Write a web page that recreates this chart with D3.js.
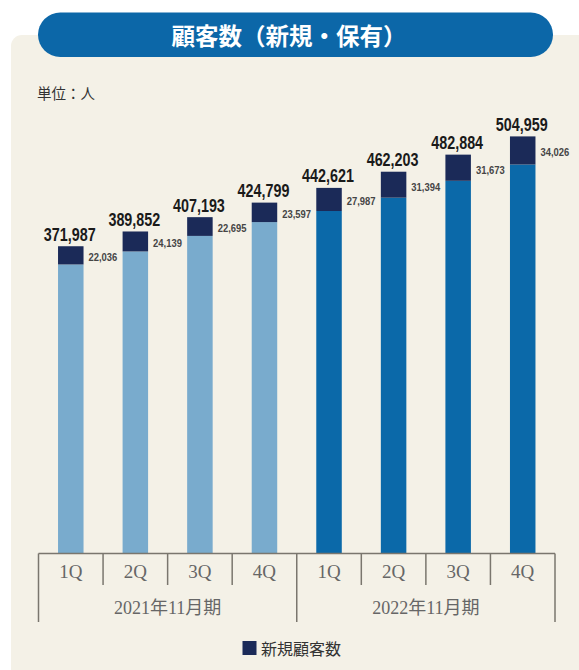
<!DOCTYPE html>
<html>
<head>
<meta charset="utf-8">
<script src="https://cdn.jsdelivr.net/npm/d3@7"></script>
<style>
  html, body { margin: 0; padding: 0; background: #fff; }
  svg { display: block; }
</style>
</head>
<body>
<div id="chart"></div>
<script>
    // Data
    const periods = ["2021年11月期", "2022年11月期"];
    const quarters = ["1Q", "2Q", "3Q", "4Q"];
    const totalCustomers = [371987, 389852, 407193, 424799, 442621, 462203, 482884, 504959];
    const newCustomers = [22036, 24139, 22695, 23597, 27987, 31394, 31673, 34026];
    const legendLabel = "新規顧客数";
    const titleText = "顧客数（新規・保有）";
    const unitText = "単位：人";

    const W = 579, H = 670;
    const baseY = 553.5;
    const barW = 25.5;
    const narrow = 0.82; // condensed look for the value labels

    const svg = d3.select("#chart")
        .append("svg")
        .attr("width", W)
        .attr("height", H);

    // Beige panel + title pill
    svg.append("rect")
        .attr("x", 11).attr("y", 35)
        .attr("width", 620).attr("height", 700)
        .attr("rx", 11)
        .attr("fill", "#f4f1e7");

    svg.append("rect")
        .attr("x", 38).attr("y", 12.5)
        .attr("width", 515).attr("height", 44.5)
        .attr("rx", 22.25)
        .attr("fill", "#0c67a8");

    svg.append("text")
        .attr("x", 289).attr("y", 35)
        .attr("text-anchor", "middle")
        .attr("dominant-baseline", "central")
        .attr("font-family", "'Noto Sans CJK JP', sans-serif")
        .attr("font-weight", 700)
        .attr("font-size", 23.5)
        .attr("fill", "#fff")
        .text(titleText);

    svg.append("text")
        .attr("x", 37).attr("y", 92)
        .attr("dominant-baseline", "central")
        .attr("font-family", "'Noto Sans CJK JP', sans-serif")
        .attr("font-size", 14.5)
        .attr("fill", "#333")
        .text(unitText);

    // Scales
    const keys = [];
    periods.forEach((p, pi) => quarters.forEach(q => keys.push(pi + "-" + q)));
    const rows = keys.map((k, i) => ({
        key: k,
        period: +k.split("-")[0],
        quarter: k.split("-")[1],
        total: totalCustomers[i],
        added: newCustomers[i]
    }));

    const x = d3.scaleBand().domain(keys).range([38.5, 555]).padding(0);
    const y = d3.scaleLinear().domain([0, 600000]).range([baseY, baseY - 600000 * 0.000826]);
    const baseColor = ["#79abcd", "#0b69a9"];
    const newColor = "#1b2a58";
    const fmt = d3.format(",");

    const bars = svg.append("g").selectAll("g")
        .data(rows)
        .enter().append("g");

    // Retained part
    bars.append("rect")
        .attr("x", d => x(d.key) + x.bandwidth() / 2 - barW / 2)
        .attr("y", d => y(d.total - d.added))
        .attr("width", barW)
        .attr("height", d => baseY - y(d.total - d.added))
        .attr("fill", d => baseColor[d.period]);

    // New customers part
    bars.append("rect")
        .attr("x", d => x(d.key) + x.bandwidth() / 2 - barW / 2)
        .attr("y", d => y(d.total))
        .attr("width", barW)
        .attr("height", d => y(d.total - d.added) - y(d.total))
        .attr("fill", newColor);

    // Total labels
    bars.append("text")
        .attr("transform", d => `translate(${x(d.key) + x.bandwidth() / 2 - 1},${y(d.total) - 5.5}) scale(${narrow},1)`)
        .attr("text-anchor", "middle")
        .attr("font-family", "'Liberation Sans', Arial, sans-serif")
        .attr("font-weight", 700)
        .attr("font-size", 17.5)
        .attr("fill", "#1a1a1a")
        .text(d => fmt(d.total));

    // New customer labels
    bars.append("text")
        .attr("transform", d => `translate(${x(d.key) + x.bandwidth() / 2 + barW / 2 + 5},${(y(d.total) + y(d.total - d.added)) / 2 + 1.5}) scale(${narrow},1)`)
        .attr("dominant-baseline", "central")
        .attr("font-family", "'Liberation Sans', Arial, sans-serif")
        .attr("font-weight", 700)
        .attr("font-size", 11.5)
        .attr("fill", "#454545")
        .text(d => fmt(d.added));

    // Category axis
    const axis = svg.append("g")
        .attr("stroke", "#7a766e")
        .attr("stroke-width", 1.5);

    axis.append("line")
        .attr("x1", x.range()[0]).attr("x2", x.range()[1])
        .attr("y1", baseY).attr("y2", baseY);

    const edges = keys.map(k => x(k)).concat([x.range()[1]]);
    axis.selectAll(".div")
        .data(edges)
        .enter().append("line")
        .attr("x1", d => d).attr("x2", d => d)
        .attr("y1", baseY)
        .attr("y2", (d, i) => i % quarters.length === 0 ? 622 : 585);

    svg.append("g").selectAll("text")
        .data(rows)
        .enter().append("text")
        .attr("x", d => x(d.key) + x.bandwidth() / 2)
        .attr("y", 571.5)
        .attr("text-anchor", "middle")
        .attr("dominant-baseline", "central")
        .attr("font-family", "'Liberation Serif', serif")
        .attr("font-size", 19)
        .attr("fill", "#666")
        .text(d => d.quarter);

    svg.append("g").selectAll("text")
        .data(periods)
        .enter().append("text")
        .attr("x", (d, i) => x(i + "-" + quarters[0]) + x.bandwidth() * quarters.length / 2)
        .attr("y", 608)
        .attr("text-anchor", "middle")
        .attr("dominant-baseline", "central")
        .attr("font-family", "'Liberation Serif', 'Noto Sans CJK JP', serif")
        .attr("font-size", 18)
        .attr("fill", "#666")
        .text(d => d);

    // Legend
    svg.append("rect")
        .attr("x", 242.5).attr("y", 641)
        .attr("width", 14).attr("height", 14)
        .attr("fill", newColor);

    svg.append("text")
        .attr("x", 261).attr("y", 648)
        .attr("dominant-baseline", "central")
        .attr("font-family", "'Noto Sans CJK JP', sans-serif")
        .attr("font-size", 16)
        .attr("fill", "#333")
        .text(legendLabel);
</script>
</body>
</html>
